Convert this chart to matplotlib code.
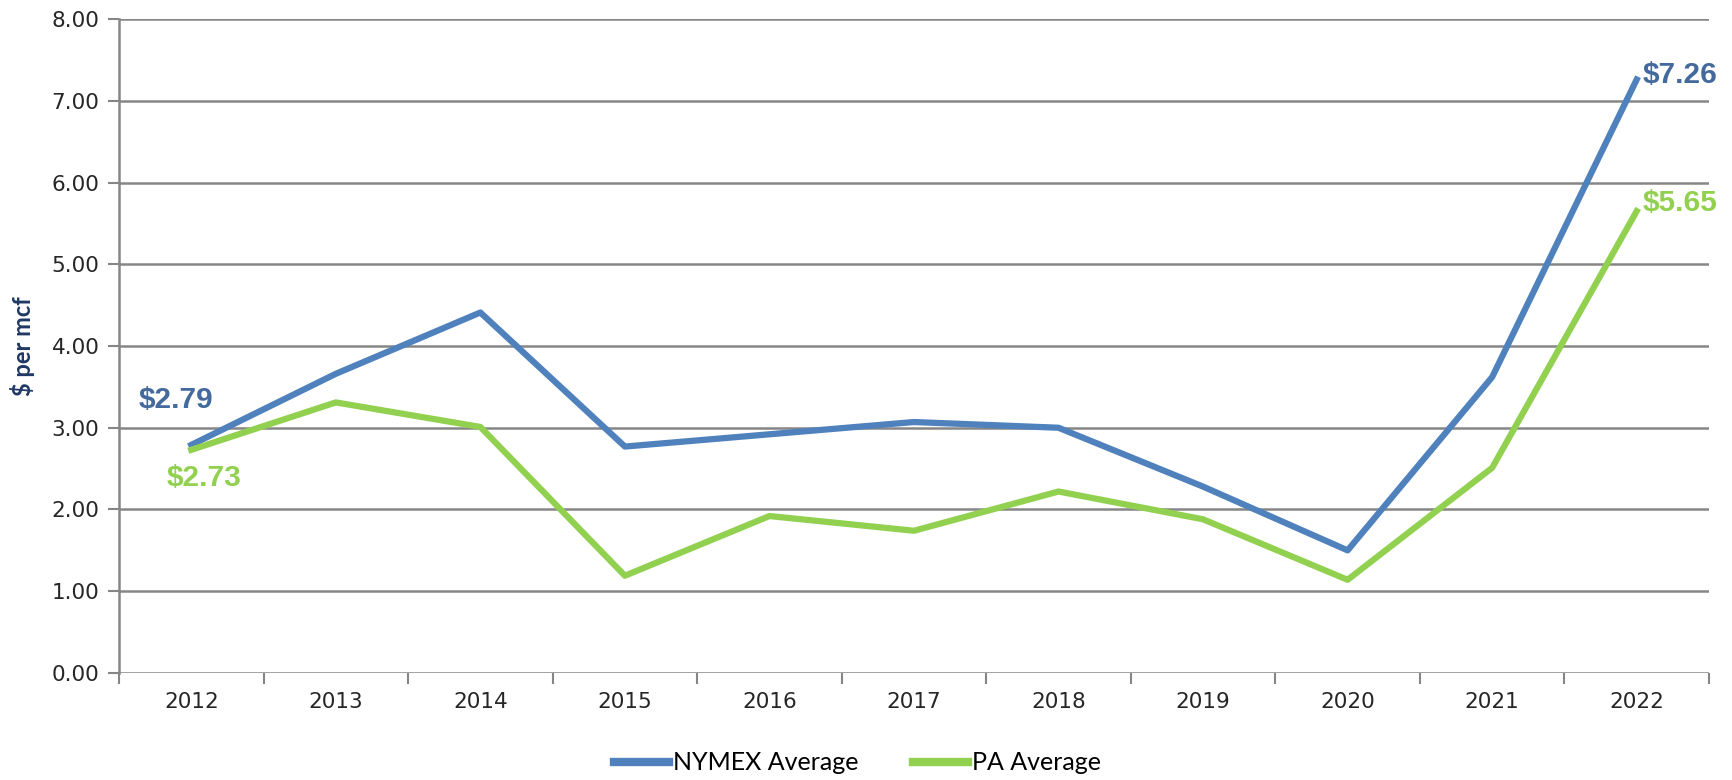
import matplotlib.pyplot as plt

years = ['2012', '2013', '2014', '2015', '2016', '2017', '2018', '2019', '2020', '2021', '2022']
nymex = [2.79, 3.66, 4.41, 2.77, 2.92, 3.07, 3.00, 2.28, 1.50, 3.62, 7.26]
pa = [2.73, 3.31, 3.01, 1.19, 1.92, 1.74, 2.22, 1.88, 1.14, 2.51, 5.65]

blue = '#4F81BD'
green = '#92D050'
grid_gray = '#868686'

fig = plt.figure(figsize=(17.32, 7.8), dpi=100)
ax = fig.add_axes([0.0687, 0.1372, 0.918, 0.8384])

x = list(range(len(years)))
ax.plot(x, nymex, color=blue, lw=4.5, label='NYMEX Average')
ax.plot(x, pa, color=green, lw=4.5, label='PA Average')

ax.set_xlim(-0.5, len(years) - 0.5)
ax.set_ylim(0, 8)
ax.set_yticks(range(0, 9))
ax.set_yticklabels(['%.2f' % v for v in range(0, 9)], fontsize=15.5, color='#262626', family='DejaVu Sans')
ax.set_xticks(x)
ax.set_xticklabels(years, fontsize=15.5, color='#262626', family='DejaVu Sans')
ax.tick_params(axis='x', length=0, pad=14)
ax.tick_params(axis='y', length=8, width=1.5, color=grid_gray, pad=6)
# category boundary ticks
ax.set_xticks([i - 0.5 for i in range(len(years) + 1)], minor=True)
ax.tick_params(axis='x', which='minor', length=8, width=1.5, color=grid_gray)

ax.grid(axis='y', color=grid_gray, lw=1.8)
ax.set_axisbelow(True)
for s in ['top', 'right', 'bottom']:
    ax.spines[s].set_visible(False)
ax.spines['left'].set_color(grid_gray)
ax.spines['left'].set_linewidth(1.8)

ax.set_ylabel('$ per mcf', fontsize=17, fontweight='bold', color='#1F3864', labelpad=12, family='Lato')

lab = dict(fontsize=21.5, fontweight='bold', family='Liberation Sans', textcoords='offset points')
ax.annotate('$2.79', (0, nymex[0]), xytext=(-11, 32), ha='center', va='center', color='#44699C', **lab)
ax.annotate('$2.73', (0, pa[0]), xytext=(9, -20), ha='center', va='center', color=green, **lab)
ax.annotate('$7.26', (10, nymex[-1]), xytext=(4, 3), ha='left', va='center', color='#44699C', **lab)
ax.annotate('$5.65', (10, pa[-1]), xytext=(4, 6), ha='left', va='center', color=green, **lab)

leg = fig.legend(loc='center', bbox_to_anchor=(0.495, 0.022), ncol=2, frameon=False,
                 prop={'family': 'Lato', 'size': 18}, handlelength=2.2, columnspacing=2.2,
                 handletextpad=0.15)
for h in leg.legend_handles:
    h.set_linewidth(6)

fig.savefig('out.png', dpi=100)
